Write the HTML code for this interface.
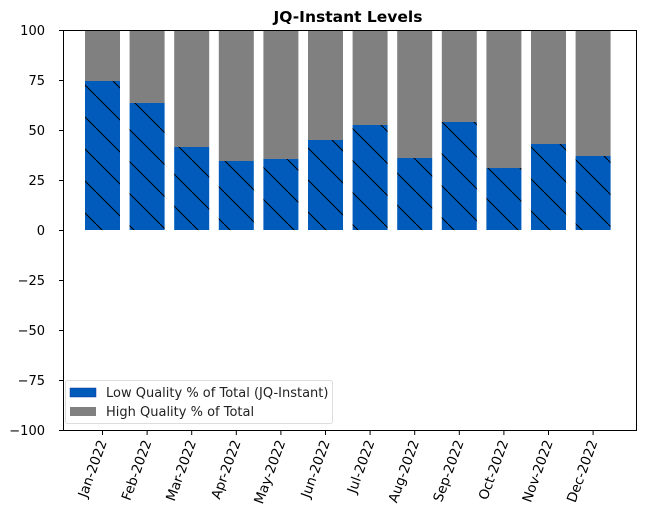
<!DOCTYPE html>
<html><head><meta charset="utf-8"><style>body{margin:0;background:#fff}svg{display:block}</style></head><body>
<svg width="646" height="522" xmlns="http://www.w3.org/2000/svg" font-family="DejaVu Sans, Liberation Sans, sans-serif">
<defs><pattern id="h" patternUnits="userSpaceOnUse" width="32" height="32"><line x1="-2" y1="-2" x2="34" y2="34" stroke="#000" stroke-width="1"/></pattern></defs>
<text x="348" y="22" font-size="15.5" font-weight="bold" text-anchor="middle">JQ-Instant Levels</text>
<g fill="#808080">
<rect x="85" y="30" width="35" height="51"/><rect x="129.6" y="30" width="35" height="73"/><rect x="174.2" y="30" width="35" height="117"/><rect x="218.8" y="30" width="35" height="131"/><rect x="263.4" y="30" width="35" height="129"/><rect x="308" y="30" width="35" height="110"/><rect x="352.6" y="30" width="35" height="95"/><rect x="397.2" y="30" width="35" height="128"/><rect x="441.8" y="30" width="35" height="92"/><rect x="486.4" y="30" width="35" height="138"/><rect x="531" y="30" width="35" height="114"/><rect x="575.6" y="30" width="35" height="126"/>
</g>
<g fill="#005bbb">
<rect x="85" y="81" width="35" height="149"/><rect x="129.6" y="103" width="35" height="127"/><rect x="174.2" y="147" width="35" height="83"/><rect x="218.8" y="161" width="35" height="69"/><rect x="263.4" y="159" width="35" height="71"/><rect x="308" y="140" width="35" height="90"/><rect x="352.6" y="125" width="35" height="105"/><rect x="397.2" y="158" width="35" height="72"/><rect x="441.8" y="122" width="35" height="108"/><rect x="486.4" y="168" width="35" height="62"/><rect x="531" y="144" width="35" height="86"/><rect x="575.6" y="156" width="35" height="74"/>
</g>
<g fill="url(#h)">
<rect x="85" y="81" width="35" height="149"/><rect x="129.6" y="103" width="35" height="127"/><rect x="174.2" y="147" width="35" height="83"/><rect x="218.8" y="161" width="35" height="69"/><rect x="263.4" y="159" width="35" height="71"/><rect x="308" y="140" width="35" height="90"/><rect x="352.6" y="125" width="35" height="105"/><rect x="397.2" y="158" width="35" height="72"/><rect x="441.8" y="122" width="35" height="108"/><rect x="486.4" y="168" width="35" height="62"/><rect x="531" y="144" width="35" height="86"/><rect x="575.6" y="156" width="35" height="74"/>
</g>
<rect x="63.5" y="30.5" width="573" height="400" fill="none" stroke="#000" stroke-width="1"/>
<g font-size="13" text-anchor="end">
<g stroke="#000"><line x1="59" y1="30.5" x2="63" y2="30.5"/><line x1="59" y1="80.5" x2="63" y2="80.5"/><line x1="59" y1="130.5" x2="63" y2="130.5"/><line x1="59" y1="180.5" x2="63" y2="180.5"/><line x1="59" y1="230.5" x2="63" y2="230.5"/><line x1="59" y1="280.5" x2="63" y2="280.5"/><line x1="59" y1="330.5" x2="63" y2="330.5"/><line x1="59" y1="380.5" x2="63" y2="380.5"/><line x1="59" y1="430.5" x2="63" y2="430.5"/></g>
<text x="45" y="35">100</text><text x="45" y="85">75</text><text x="45" y="135">50</text><text x="45" y="185">25</text><text x="45" y="235">0</text><text x="45" y="285">−25</text><text x="45" y="335">−50</text><text x="45" y="385">−75</text><text x="45" y="435">−100</text>
</g>
<rect x="65.5" y="380.5" width="267" height="43" fill="#fff" stroke="#ddd" rx="2"/>
<rect x="70" y="388" width="26" height="9" fill="#005bbb" stroke="#1a3aa0" stroke-width="0.5"/>
<rect x="70" y="407" width="26" height="9" fill="#808080"/>
<text x="106" y="397" font-size="13" fill="#222">Low Quality % of Total (JQ-Instant)</text>
<text x="106" y="416" font-size="13" fill="#222">High Quality % of Total</text>
<g stroke="#000">
<line x1="102.5" y1="431" x2="102.5" y2="435"/><line x1="147.1" y1="431" x2="147.1" y2="435"/><line x1="191.7" y1="431" x2="191.7" y2="435"/><line x1="236.3" y1="431" x2="236.3" y2="435"/><line x1="280.9" y1="431" x2="280.9" y2="435"/><line x1="325.5" y1="431" x2="325.5" y2="435"/><line x1="370.1" y1="431" x2="370.1" y2="435"/><line x1="414.7" y1="431" x2="414.7" y2="435"/><line x1="459.3" y1="431" x2="459.3" y2="435"/><line x1="503.9" y1="431" x2="503.9" y2="435"/><line x1="548.5" y1="431" x2="548.5" y2="435"/><line x1="593.1" y1="431" x2="593.1" y2="435"/>
</g>
<g font-size="13.5" text-anchor="end">
<text transform="translate(107,442) rotate(-70)">Jan-2022</text>
<text transform="translate(151.6,442) rotate(-70)">Feb-2022</text>
<text transform="translate(196.2,442) rotate(-70)">Mar-2022</text>
<text transform="translate(240.8,442) rotate(-70)">Apr-2022</text>
<text transform="translate(285.4,442) rotate(-70)">May-2022</text>
<text transform="translate(330,442) rotate(-70)">Jun-2022</text>
<text transform="translate(374.6,442) rotate(-70)">Jul-2022</text>
<text transform="translate(419.2,442) rotate(-70)">Aug-2022</text>
<text transform="translate(463.8,442) rotate(-70)">Sep-2022</text>
<text transform="translate(508.4,442) rotate(-70)">Oct-2022</text>
<text transform="translate(553,442) rotate(-70)">Nov-2022</text>
<text transform="translate(597.6,442) rotate(-70)">Dec-2022</text>
</g>
</svg>
</body></html>
